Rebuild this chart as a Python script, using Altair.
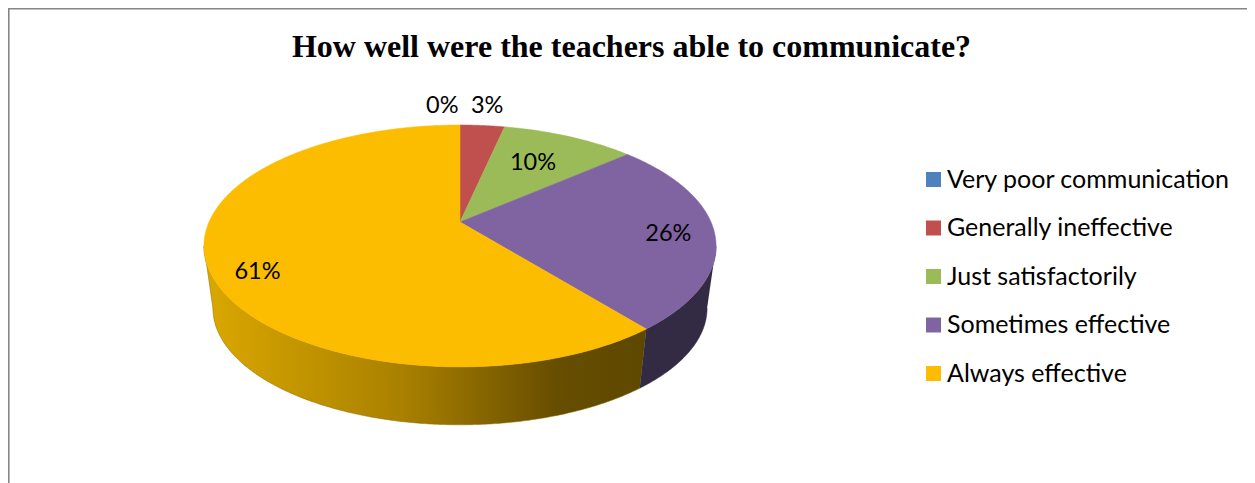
import math
import altair as alt
import pandas as pd

TITLE = "How well were the teachers able to communicate?"
CATEGORIES = ["Very poor communication", "Generally ineffective", "Just satisfactorily",
              "Sometimes effective", "Always effective"]
VALUES = [0.0, 3.4, 10.2, 25.6, 60.8]
LABELS = ["0%", "3%", "10%", "26%", "61%"]
COLORS = ["#4F81BD", "#C0504D", "#9BBB59", "#8064A2", "#FCBD00"]
LABEL_RADIUS = [1.265, 1.27, 0.66, 0.82, 0.84]
LABEL_TURN = [-4.0, 0.0, -1.2, 1.5, -8.1]

# perspective model of the tilted disc
CX, CY, A, B, K = 460.0, 222.0, 116.2, 251.0, -0.198
BASE_CY, BASE_SCALE = 285.0, 0.965
RIGHT_EDGE, LEFT_EDGE = 101.4, 258.6


def project(theta, radius=1.0, cy=CY, scale=1.0):
    t = math.radians(theta)
    u, v = radius * math.sin(t), -radius * math.cos(t)
    w = 1 + K * v
    return CX + scale * B * u / w, cy + scale * A * v / w


def sweep(a, b):
    n = max(2, int(abs(b - a) * 2))
    return [a + (b - a) * i / n for i in range(n + 1)]


total = sum(VALUES)
edges = [0.0]
for value in VALUES:
    edges.append(edges[-1] + 360.0 * value / total)

X = alt.Scale(domain=[8, 1247], nice=False, zero=False)
Y = alt.Scale(domain=[483, 8], nice=False, zero=False)


def polygon(points, **mark):
    df = pd.DataFrame([{"x": x, "y": y, "i": i} for i, (x, y) in enumerate(points)])
    return alt.Chart(df).mark_line(strokeWidth=0.5, **mark).encode(
        x=alt.X("x:Q", scale=X, axis=None),
        y=alt.Y("y:Q", scale=Y, axis=None),
        order="i:Q",
    )


def wall(a, b):
    front = [project(t) for t in sweep(a, b)]
    back = [project(t, cy=BASE_CY, scale=BASE_SCALE) for t in sweep(b, a)]
    return front + back


layers = []

# invisible carrier of the legend
legend_df = pd.DataFrame({"category": CATEGORIES, "x": [CX] * 5, "y": [CY] * 5})
layers.append(
    alt.Chart(legend_df).mark_square(size=225, opacity=0).encode(
        x=alt.X("x:Q", scale=X, axis=None),
        y=alt.Y("y:Q", scale=Y, axis=None),
        color=alt.Color(
            "category:N",
            scale=alt.Scale(domain=CATEGORIES, range=COLORS),
            legend=alt.Legend(
                title=None, orient="none", legendX=913, legendY=159,
                symbolType="square", symbolSize=225, symbolStrokeWidth=0,
                labelFont="Lato", labelFontSize=25, labelColor="#000000",
                labelOffset=1, rowPadding=22.5, labelLimit=400, padding=0,
            ),
        ),
    )
)

# side walls
gold = alt.Gradient(
    gradient="linear", x1=0, x2=1, y1=0, y2=0,
    stops=[
        alt.GradientStop(offset=0, color="#DBA800"),
        alt.GradientStop(offset=0.45, color="#A98000"),
        alt.GradientStop(offset=0.8, color="#664D00"),
        alt.GradientStop(offset=1, color="#5E4800"),
    ],
)
layers.append(polygon(wall(RIGHT_EDGE, edges[4]), fill="#332A44", stroke="#332A44"))
layers.append(polygon(wall(edges[4], LEFT_EDGE), fill=gold, stroke="#8A6A00"))

# top face
for i, color in enumerate(COLORS):
    if VALUES[i] > 0:
        pts = [(CX, CY)] + [project(t) for t in sweep(edges[i], edges[i + 1])] + [(CX, CY)]
        layers.append(polygon(pts, fill=color, stroke=color))

# value labels
rows = []
for i, text in enumerate(LABELS):
    mid = (edges[i] + edges[i + 1]) / 2 + LABEL_TURN[i]
    x, y = project(mid, LABEL_RADIUS[i])
    rows.append({"x": x, "y": y, "label": text})
layers.append(
    alt.Chart(pd.DataFrame(rows)).mark_text(font="Lato", fontSize=23.5, color="#000000", dy=1).encode(
        x=alt.X("x:Q", scale=X, axis=None),
        y=alt.Y("y:Q", scale=Y, axis=None),
        text="label:N",
    )
)

# frame of the picture
frame = pd.DataFrame({"a": [0]})
layers.append(alt.Chart(frame).mark_rule(color="#868686", strokeWidth=1.6).encode(
    x=alt.value(0.8), y=alt.value(0), y2=alt.value(475)))
layers.append(alt.Chart(frame).mark_rule(color="#868686", strokeWidth=1.6).encode(
    y=alt.value(0.8), x=alt.value(0), x2=alt.value(1239)))

chart = (
    alt.layer(*layers)
    .properties(
        width=1239, height=475, padding=0,
        autosize=alt.AutoSizeParams(type="none"),
        title=alt.TitleParams(
            TITLE, font="Liberation Serif", fontSize=32, fontWeight="bold", color="#000000",
            anchor="middle", offset=-57, dx=4, frame="group",
        ),
    )
    .configure_view(strokeWidth=0)
)

chart.save("out.html", embed_options={"renderer": "svg", "actions": False})
